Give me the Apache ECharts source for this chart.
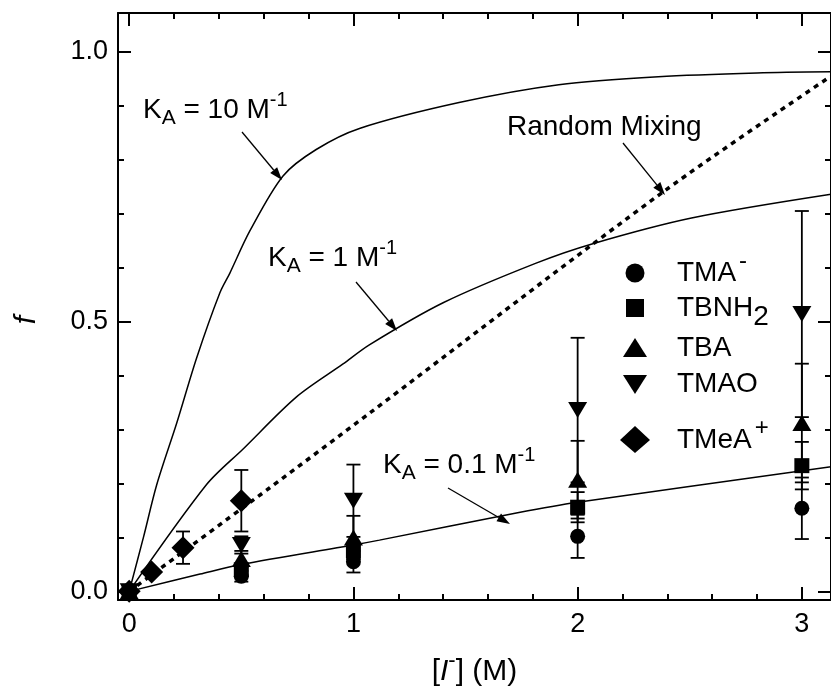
<!DOCTYPE html>
<html>
<head>
<meta charset="utf-8">
<script src="https://cdn.jsdelivr.net/npm/echarts@6/dist/echarts.min.js"></script>
<style>
  html, body { margin: 0; padding: 0; background: #fff; }
  #chart { width: 831px; height: 692px; }
</style>
</head>
<body>
<div id="chart"></div>
<script>
const FONT = '"Liberation Sans", Arial, Helvetica, sans-serif';

// Association model curves: fraction f against anion concentration [I-] (M)
const k10X = [0, 0.064, 0.123, 0.212, 0.301, 0.404, 0.449, 0.538, 0.686, 0.834, 1.027, 1.471, 1.916, 2.36, 2.80, 3.13];
const k10F = [0, 0.101, 0.198, 0.312, 0.433, 0.553, 0.590, 0.668, 0.770, 0.819, 0.858, 0.906, 0.939, 0.954, 0.961, 0.963];

const k1X = [0, 0.345, 0.508, 0.745, 0.952, 1.071, 1.40, 1.812, 2.064, 2.508, 3.13];
const k1F = [0, 0.198, 0.264, 0.360, 0.421, 0.457, 0.535, 0.608, 0.644, 0.692, 0.736];

const k01X = [0, 0.316, 0.5, 1.0, 1.116, 1.738, 2.0, 3.13];
const k01F = [0, 0.032, 0.050, 0.086, 0.095, 0.146, 0.165, 0.231];

const randomX = [0, 0.627, 1.071, 2.39, 3.13];
const randomF = [0, 0.192, 0.330, 0.743, 0.955];

// Measured fractions with uncertainties
const concX = [0, 0.5, 1, 2, 3];
const tmaF     = [0, 0.028, 0.055, 0.102, 0.154];
const tmaErr   = [0, 0.010, 0.020, 0.040, 0.057];
const tbnhF    = [0, 0.040, 0.075, 0.156, 0.233];
const tbnhErr  = [0, 0.010, 0.015, 0.028, 0.044];
const tbaF     = [0, 0.060, 0.100, 0.207, 0.312];
const tbaErr   = [0, 0.015, 0.040, 0.072, 0.110];
const tmaoF    = [0, 0.086, 0.168, 0.336, 0.514];
const tmaoErr  = [0, 0.016, 0.067, 0.134, 0.191];

const tmeaX    = [0, 0.1, 0.24, 0.5];
const tmeaF    = [0, 0.036, 0.081, 0.168];
const tmeaErr  = [0, 0, 0.030, 0.057];

// Tick positions
const xMajorTicks = [0, 1, 2, 3];
const xMinorTicks = [0.2, 0.4, 0.6, 0.8, 1.2, 1.4, 1.6, 1.8, 2.2, 2.4, 2.6, 2.8, 3.0];
const yMajorTicks = [0, 0.5, 1.0];
const yMinorTicks = [0.1, 0.2, 0.3, 0.4, 0.6, 0.7, 0.8, 0.9];

const X_MIN = -0.05, X_MAX = 3.13;
const Y_MIN = -0.016, Y_MAX = 1.072;

const DOWN_TRI = 'path://M0,0 L20,0 L10,17 Z';
const UP_TRI = 'path://M10,0 L20,17 L0,17 Z';

const zip = (xs, ys) => xs.map((x, i) => [x, ys[i]]);
const bars = (xs, ys, es) => xs.map((x, i) => [x, ys[i] - es[i], ys[i] + es[i]]).filter((d, i) => es[i] > 0);

const chart = echarts.init(document.getElementById('chart'), null, { renderer: 'canvas' });

const lineStyleBlack = { color: '#000', width: 2 };

function makeXAxis(position, major, showLabel, withName) {
  const ax = {
    type: 'value', min: X_MIN, max: X_MAX, position: position,
    axisLine: { show: major, onZero: false, lineStyle: lineStyleBlack },
    axisTick: { show: true, inside: true, length: major ? 13 : 6,
      customValues: major ? xMajorTicks : xMinorTicks, lineStyle: lineStyleBlack },
    axisLabel: { show: showLabel, customValues: xMajorTicks, fontSize: 27, color: '#000',
      fontFamily: FONT, margin: 11, formatter: v => String(v) },
    splitLine: { show: false }
  };
  if (withName) {
    ax.name = '[{i|I}{sup|-}] (M)';
    ax.nameLocation = 'middle';
    ax.nameGap = 50;
    ax.nameTextStyle = {
      fontSize: 30, color: '#000', fontFamily: FONT,
      rich: {
        i: { fontSize: 30, fontStyle: 'italic', fontFamily: FONT, color: '#000' },
        sup: { fontSize: 22, fontFamily: FONT, color: '#000', padding: [0, 0, 22, 0] }
      }
    };
  }
  return ax;
}

function makeYAxis(position, major, showLabel) {
  return {
    type: 'value', min: Y_MIN, max: Y_MAX, position: position,
    axisLine: { show: major, onZero: false, lineStyle: lineStyleBlack },
    axisTick: { show: true, inside: true, length: major ? 13 : 6,
      customValues: major ? yMajorTicks : yMinorTicks, lineStyle: lineStyleBlack },
    axisLabel: { show: showLabel, customValues: yMajorTicks, fontSize: 27, color: '#000',
      fontFamily: FONT, margin: 10, formatter: v => v.toFixed(1) },
    splitLine: { show: false }
  };
}

function curve(name, xs, ys, dotted) {
  return {
    type: 'line', name: name, data: zip(xs, ys), smooth: 0.3, showSymbol: false,
    symbol: 'none', silent: true, z: 2,
    lineStyle: dotted ? { color: '#000', width: 3.5, type: [5, 5] } : { color: '#000', width: 1.5 }
  };
}

function errorBars(name, data) {
  return {
    type: 'custom', name: name, data: data, z: 3, silent: true,
    encode: { x: 0, y: [1, 2] },
    renderItem: (params, api) => {
      const x = api.value(0);
      const lo = api.coord([x, api.value(1)]);
      const hi = api.coord([x, api.value(2)]);
      const w = 7;
      const st = { stroke: '#000', lineWidth: 1.8 };
      return {
        type: 'group',
        children: [
          { type: 'line', shape: { x1: lo[0], y1: lo[1], x2: hi[0], y2: hi[1] }, style: st },
          { type: 'line', shape: { x1: lo[0] - w, y1: lo[1], x2: lo[0] + w, y2: lo[1] }, style: st },
          { type: 'line', shape: { x1: hi[0] - w, y1: hi[1], x2: hi[0] + w, y2: hi[1] }, style: st }
        ]
      };
    }
  };
}

function points(name, xs, ys, symbol, size) {
  return {
    type: 'scatter', name: name, data: zip(xs, ys), symbol: symbol, symbolSize: size,
    itemStyle: { color: '#000', opacity: 1 }, z: 4, silent: true
  };
}

// Annotation helpers
function arrow(x1, y1, x2, y2) {
  const ang = Math.atan2(y2 - y1, x2 - x1);
  const L = 13, W = 4.5;
  const bx = x2 - L * Math.cos(ang), by = y2 - L * Math.sin(ang);
  const px = -Math.sin(ang) * W, py = Math.cos(ang) * W;
  return [
    { type: 'line', shape: { x1: x1, y1: y1, x2: bx, y2: by }, style: { stroke: '#000', lineWidth: 1.3 }, z: 10 },
    { type: 'polygon', shape: { points: [[x2, y2], [bx + px, by + py], [bx - px, by - py]] }, style: { fill: '#000' }, z: 10 }
  ];
}

const richKA = {
  sub: { fontSize: 21, fontFamily: FONT, fill: '#000', padding: [16, 0, 0, 0] },
  sup: { fontSize: 20, fontFamily: FONT, fill: '#000', padding: [0, 0, 20, 0] }
};

function label(text, x, y) {
  return {
    type: 'text', x: x, y: y, z: 10,
    style: { text: text, fontSize: 28, fontFamily: FONT, fill: '#000', verticalAlign: 'middle', rich: richKA }
  };
}

// Legend built from the series names and their marker shapes
const legendNames = ['TMA{sup|-}', 'TBNH{sub|2}', 'TBA', 'TMAO', 'TMeA{sup|+}'];
const legendRows = [273, 308, 348, 384, 440];
const legendSymbolX = 635, legendTextX = 677;

function legendSymbol(i, cx, cy) {
  const s = { fill: '#000' };
  switch (i) {
    case 0: return { type: 'circle', shape: { cx: cx, cy: cy, r: 9.5 }, style: s, z: 10 };
    case 1: return { type: 'rect', shape: { x: cx - 9, y: cy - 9, width: 18, height: 18 }, style: s, z: 10 };
    case 2: return { type: 'polygon', shape: { points: [[cx, cy - 10], [cx + 12, cy + 9], [cx - 12, cy + 9]] }, style: s, z: 10 };
    case 3: return { type: 'polygon', shape: { points: [[cx - 12, cy - 9], [cx + 12, cy - 9], [cx, cy + 10]] }, style: s, z: 10 };
    default: return { type: 'polygon', shape: { points: [[cx, cy - 14], [cx + 15, cy], [cx, cy + 13], [cx - 15, cy]] }, style: s, z: 10 };
  }
}

const graphics = [];
legendNames.forEach((n, i) => {
  graphics.push(legendSymbol(i, legendSymbolX, legendRows[i]));
  graphics.push({
    type: 'text', x: legendTextX, y: legendRows[i], z: 10,
    style: {
      text: n, fontSize: 28, fontFamily: FONT, fill: '#000', verticalAlign: 'middle',
      rich: {
        sup: { fontSize: 24, fontFamily: FONT, fill: '#000', padding: [0, 0, 24, 3] },
        sub: { fontSize: 28, fontFamily: FONT, fill: '#000', padding: [18, 0, 0, 0] }
      }
    }
  });
});

graphics.push(label('K{sub|A} = 10 M{sup|-1}', 143, 110));
graphics.push(...arrow(242, 132, 282, 180));
graphics.push(label('K{sub|A} = 1 M{sup|-1}', 268, 258));
graphics.push(...arrow(356, 282, 397, 331));
graphics.push(label('Random Mixing', 507, 127));
graphics.push(...arrow(623, 143, 665, 195));
graphics.push(label('K{sub|A} = 0.1 M{sup|-1}', 383, 465));
graphics.push(...arrow(448, 488, 510, 524));

// Y axis title (italic f)
graphics.push({
  type: 'text', x: 27, y: 320, rotation: Math.PI / 2, z: 10,
  style: { text: 'f', fontSize: 30, fontStyle: 'italic', fontFamily: FONT, fill: '#000',
    align: 'center', verticalAlign: 'middle' }
});

const option = {
  backgroundColor: '#fff',
  animation: false,
  textStyle: { fontFamily: FONT },
  grid: { left: 118, top: 13, width: 715, height: 602, containLabel: false },
  xAxis: [
    makeXAxis('bottom', true, true, true),
    makeXAxis('bottom', false, false, false),
    makeXAxis('top', true, false, false),
    makeXAxis('top', false, false, false)
  ],
  yAxis: [
    makeYAxis('left', true, true),
    makeYAxis('left', false, false),
    makeYAxis('right', true, false),
    makeYAxis('right', false, false)
  ],
  series: [
    curve('K_A = 10', k10X, k10F, false),
    curve('K_A = 1', k1X, k1F, false),
    curve('K_A = 0.1', k01X, k01F, false),
    curve('Random Mixing', randomX, randomF, true),
    errorBars('TMA- error', bars(concX, tmaF, tmaErr)),
    errorBars('TBNH2 error', bars(concX, tbnhF, tbnhErr)),
    errorBars('TBA error', bars(concX, tbaF, tbaErr)),
    errorBars('TMAO error', bars(concX, tmaoF, tmaoErr)),
    errorBars('TMeA+ error', bars(tmeaX, tmeaF, tmeaErr)),
    points('TMA-', concX, tmaF, 'circle', 15),
    points('TBNH2', concX, tbnhF, 'rect', 15),
    points('TBA', concX, tbaF, UP_TRI, [19, 16]),
    points('TMAO', concX, tmaoF, DOWN_TRI, [19, 16]),
    points('TMeA+', tmeaX, tmeaF, 'diamond', [23, 23])
  ],
  graphic: graphics
};

chart.setOption(option);
</script>
</body>
</html>
